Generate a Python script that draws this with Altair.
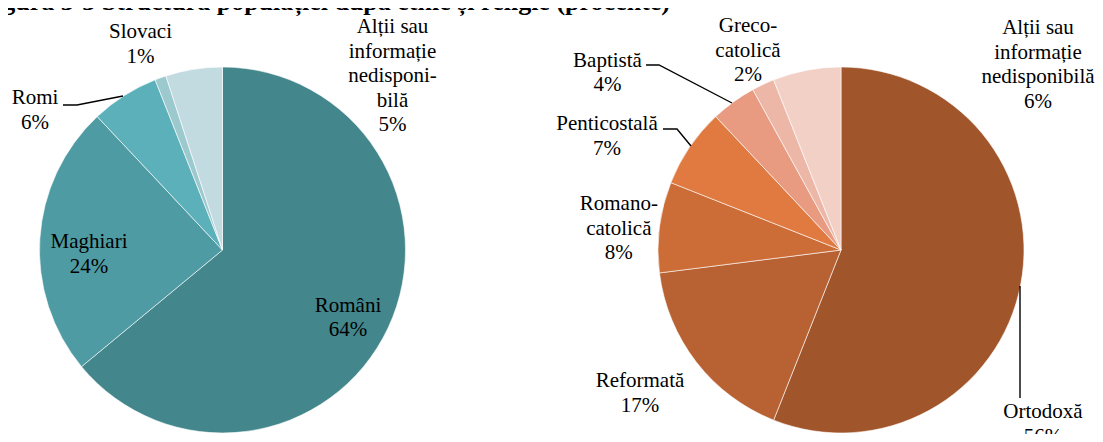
import altair as alt
import pandas as pd

# ---------------- data ----------------
eth_cats = ["Români", "Maghiari", "Romi", "Slovaci", "Alții sau informație nedisponibilă"]
eth_vals = [64, 24, 6, 1, 5]
eth_display = ["Români", "Maghiari", "Romi", "Slovaci", "Alții sau\ninformație\nnedisponi-\nbilă"]

rel_cats = ["Ortodoxă", "Reformată", "Romano-catolică", "Penticostală", "Baptistă",
            "Greco-catolică", "Alții sau informație nedisponibilă"]
rel_vals = [56, 17, 8, 7, 4, 2, 6]
rel_display = ["Ortodoxă", "Reformată", "Romano-\ncatolică", "Penticostală", "Baptistă",
               "Greco-\ncatolică", "Alții sau\ninformație\nnedisponibilă"]

title_text = "Figura 3-3 Structura populației după etnie și religie (procente)"

# ---------------- styles / layout ----------------
eth_colors = ["#43868C", "#4F9BA3", "#5BB0BA", "#9CC9CE", "#C1DBE0"]
rel_colors = ["#A0552B", "#B86233", "#CC6C37", "#E07A40", "#E89B80", "#EDB7A8", "#F2D0C6"]

W, H = 1087, 426
R = 183
eth_center = (214.5, 242)
rel_center = (833, 242)

# label anchors (centre x, first-line baseline y), in pixels
eth_label_x = [340, 81, 27, 132.5, 384.5]
eth_label_y = [303.7, 240, 96.3, 30.3, 25]
rel_label_x = [1035, 632, 610.8, 599, 599.5, 740, 1030]
rel_label_y = [410.3, 379.4, 202, 122, 58.7, 24.3, 26]

# leader lines (polyline points in pixels)
leaders = {
    "Romi": [(55, 97), (69, 97), (115, 88)],
    "Baptistă": [(638, 57), (651, 57), (724, 95)],
    "Penticostală": [(655, 121), (669, 121), (683, 138)],
    "Ortodoxă": [(1012, 278), (1012, 390)],
}

FONT = "Liberation Serif"

# ---------------- tables ----------------
eth_df = pd.DataFrame({"cat": eth_cats, "val": eth_vals, "idx": range(len(eth_cats))})
rel_df = pd.DataFrame({"cat": rel_cats, "val": rel_vals, "idx": range(len(rel_cats))})

lab_rows = []
for d, v, x, y in zip(eth_display, eth_vals, eth_label_x, eth_label_y):
    lab_rows.append({"label": f"{d}\n{v}%", "x": x, "y": y})
for d, v, x, y in zip(rel_display, rel_vals, rel_label_x, rel_label_y):
    lab_rows.append({"label": f"{d}\n{v}%", "x": x, "y": y})
lab_df = pd.DataFrame(lab_rows)

line_rows = []
for k, pts in leaders.items():
    for i, (x, y) in enumerate(pts):
        line_rows.append({"id": k, "seq": i, "x": x, "y": y})
line_df = pd.DataFrame(line_rows)

title_df = pd.DataFrame({"t": [title_text]})


def pie(df, cats, colors, center):
    return alt.Chart(df).mark_arc(outerRadius=R, stroke="white", strokeWidth=0.6).encode(
        theta=alt.Theta("val:Q", stack=True),
        order=alt.Order("idx:Q"),
        color=alt.Color("cat:N", scale=alt.Scale(domain=cats, range=colors), legend=None),
        x=alt.value(center[0]),
        y=alt.value(center[1]),
    )


eth_pie = pie(eth_df, eth_cats, eth_colors, eth_center)
rel_pie = pie(rel_df, rel_cats, rel_colors, rel_center)

labels = alt.Chart(lab_df).mark_text(
    font=FONT, fontSize=21, lineBreak="\n", lineHeight=24.5,
    align="center", baseline="alphabetic", color="black",
).encode(
    x=alt.X("x:Q", scale=None, axis=None),
    y=alt.Y("y:Q", scale=None, axis=None),
    text="label:N",
)

lines = alt.Chart(line_df).mark_line(color="black", strokeWidth=1.4).encode(
    x=alt.X("x:Q", scale=None, axis=None),
    y=alt.Y("y:Q", scale=None, axis=None),
    detail="id:N",
    order="seq:Q",
)

title = alt.Chart(title_df).mark_text(
    font=FONT, fontSize=26, fontWeight="bold", align="right", baseline="alphabetic", color="black"
).encode(
    x=alt.value(662),
    y=alt.value(2),
    text="t:N",
)

chart = alt.layer(eth_pie, rel_pie, lines, labels, title).resolve_scale(
    color="independent", theta="independent"
).properties(
    width=W, height=H, padding=0, autosize=alt.AutoSizeParams(type="none")
).configure_view(stroke=None)

chart.save("out.html", embed_options={"renderer": "svg", "actions": False})
